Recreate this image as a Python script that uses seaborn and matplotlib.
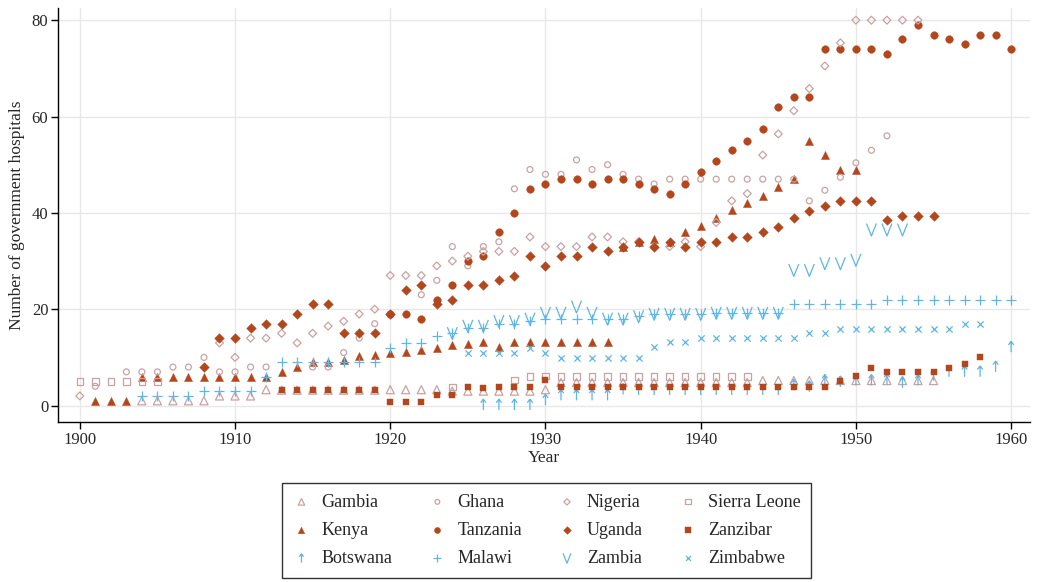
import numpy as np
import pandas as pd
import matplotlib
matplotlib.use("Agg")
import matplotlib.pyplot as plt
from matplotlib.path import Path
import seaborn as sns

sns.set_theme(style="white")
plt.rcParams['font.family'] = ['Liberation Serif', 'DejaVu Serif']

# ----------------------------------------------------------
# number of government hospitals by colony
# each series: first year + one value per year (None = no data)

gambia_start = 1904
gambia = [1, 1, 1, 1, 1, 2, 2, 2, 3.3,
          3.2, 3.2, 3.2, 3.2, 3.2, 3.2, 3.2,
          3.3, 3.3, 3.3, 3.3, 3, 3, 3, 3, 3, 3, 3.3,
          4.8, 4.8, 4.8, 4.8, 4.8, 4.8, 4.8, 4.8, 4.8, 4.8, 4.8, 4.8, 4.8,
          5.2, 5.2, 5.2, 5.2, 5.2, 5.2, 5.2, 5.2, 5.2, 5.2, 5.2, 5.2]

ghana_start = 1901
ghana = [4, None, 7, 7, 7, 8, 8, 10, 7, 7, 8, 8,
         None, None, 8, 8, 11, 14, 17,
         None, None, 23, 26, 33, 29, 33, 34, 45, 49,
         48, 48, 51, 49, 50, 48, 47, 46, 47, 47,
         47, 47, 47, 47, 47, 47, 47, 42.5, 44.7, 47.4,
         50.4, 53, 56]

nigeria_start = 1900
nigeria = [2, None, None, None, None, None, None, None, None,
           13, 10, 14, 14, 15, 13, 15, 16.5, 17.5, 19, 20,
           27, 27, 27, 29, 30, 31, 32, 32, 32, 35,
           33, 33, 33, 35, 35, 34, 34, 33, 33, 34,
           33, 38, 42.5, 44, 52, 56.4, 61.2, 65.8, 70.5, 75.3,
           80, 80, 80, 80, 80]

sierra_start = 1900
sierra = [5, 5, 5, 5, 5, 5,
          None, None, None, None, None, None, None, None, None,
          None, None, None, None, None, None, None, None, None,
          3.9, None, None, None, 5.3, 6,
          6.1, 6, 6, 6, 6, 6, 6, 6, 6, 6, 6, 6, 6, 6]

kenya_start = 1901
kenya = [1, 1, 1, 6, 6, 6, 6, 6, 6, 6, 6, 6,
         7, 8, 9, 9, 9.5, 10.2, 10.5,
         10.9, 11.2, 11.6, 11.9, 12.6, 12.8, 13.3, 12.2, 13.3, 13.3,
         13.3, 13.3, 13.3, 13.3, 13.3,
         33, 34, 34.5, 34, 36, 37.3, 39, 40.5, 42, 43.6, 45.3, 47, 55, 52, 49, 49]

tanzania_start = 1920
tanzania = [19, 19, 18, 22, 25, 30, 31, 36, 40, 45,
            46, 47, 47, 46, 47, 47, 46, 45, 44, 46,
            48.4, 50.8, 53, 55, 57.4, 62, 64, 64, 74, 74,
            74, 74, 73, 76, 79, 77, 76, 75, 77, 77, 74]

uganda_start = 1908
uganda = [8, 14, 14, 16, 17, 17, 19, 21, 21, 15, 15, 15,
          19, 24, 25, 21, 22, 25, 25, 26, 27, 31,
          29, 31, 31, 33, 32, 33, 34, 33, 34, 33,
          34, 34, 35, 35, 36, 37, 39, 40.4, 41.5, 42.5,
          42.5, 42.5, 38.5, 39.3, 39.3, 39.3]

zanzibar_start = 1913
zanzibar = [3.2, 3.2, 3.2, 3.2, 3.2, 3.2, 3.2,
            0.8, 0.8, 0.8, 2.1, 2.1, 3.9, 3.7, 3.9, 3.9, 3.9,
            5.3, 3.9, 3.9, 3.9, 3.9, 3.9, 3.9, 3.9, 3.9, 3.9, 3.9, 3.9, 3.9, 3.9, 3.9, 3.9,
            3.9, 3.9, 3.9, 5, 6.1, 7.9, 6.9, 6.9, 6.9, 6.9, 7.9, 8.7, 10]

botswana_start = 1926
botswana = [0.2, 0.2, 0.2, 0.2, 1.2, 2.2, 2.2, 2.2, 2.2,
            3.4, 3.3, 3.3, 3.3, 3.3, 3.3, 3.3, 3.3, 3.3, 3.3, 3.3,
            4.3, 4, 5.3, 5, 5.3, 5.3, 5.5, 4.8, 5.3, 6.3, 7.1, 7.1, 7.1, 8.1, 12.2]

malawi_start = 1904
malawi = [2, 2, 2, 2, 3, 3, 3, 3, 6,
          9, 9, 9, 9, 9, 9, 9,
          12, 13, 13, 14.5, 15, 16, 16, 17, 17, 17.5,
          18, 18, 18, 18, 18, 18, 18.5, 19, 19, 19,
          19, 19.2, 19.2, 19.2, 19.2, 19.2, 21, 21, 21, 21,
          21, 21, 22, 22, 22, 22, 22, 22, 22, 22, 22]

zambia_start = 1924
zambia = [15, 16.5, 16.5, 17.5, 17.5, 18,
          19.2, 19.2, 20.5, 19.2, 18, 18, 18.5, 19, 19, 19,
          19, 19.2, 19.2, 19.2, 19.2, 19.2, 28.1, 28.1, 29.5, 29.5,
          30.2, 36.5, 36.5, 36.5]

zimbabwe_start = 1925
zimbabwe = [11, 11, 11, 11, 12,
            11, 9.8, 9.8, 9.8, 9.8, 9.8, 9.8, 12.1, 13.1, 13.1,
            14, 14, 14, 14, 14, 14, 14, 15, 15, 15.9,
            15.9, 15.9, 15.9, 15.9, 15.9, 15.9, 15.9, 17, 17]

# ----------------------------------------------------------
pink = "#c9a3a3"
rust = "#b4461c"
blue = "#5db6e8"

arrow = Path([(0, -1), (0, 1), (-0.5, 0.35), (0, 1), (0.5, 0.35)],
             [Path.MOVETO, Path.LINETO, Path.MOVETO, Path.LINETO, Path.LINETO])
vee = Path([(-0.8, 1), (0, -1), (0.8, 1)],
           [Path.MOVETO, Path.LINETO, Path.LINETO])

# name, start, values, marker, colour, hollow, size
series = [
    ("Gambia", gambia_start, gambia, "^", pink, True, 34),
    ("Kenya", kenya_start, kenya, "^", rust, False, 34),
    ("Botswana", botswana_start, botswana, arrow, blue, True, 60),
    ("Ghana", ghana_start, ghana, "o", pink, True, 18),
    ("Tanzania", tanzania_start, tanzania, "o", rust, False, 30),
    ("Malawi", malawi_start, malawi, "+", blue, False, 45),
    ("Nigeria", nigeria_start, nigeria, "D", pink, True, 16),
    ("Uganda", uganda_start, uganda, "D", rust, False, 24),
    ("Zambia", zambia_start, zambia, vee, blue, True, 80),
    ("Sierra Leone", sierra_start, sierra, "s", pink, True, 22),
    ("Zanzibar", zanzibar_start, zanzibar, "s", rust, False, 24),
    ("Zimbabwe", zimbabwe_start, zimbabwe, "x", blue, False, 20),
]

fig = plt.figure(figsize=(10.37, 5.82), dpi=100)
ax = fig.add_axes([0.056, 0.275, 0.937, 0.711])

for name, start, vals, mk, col, hollow, size in series:
    df = pd.DataFrame({"Year": np.arange(start, start + len(vals)),
                       "n": pd.to_numeric(pd.Series(vals), errors="coerce")}).dropna()
    if hollow:
        sns.scatterplot(data=df, x="Year", y="n", marker=mk, s=size, ax=ax,
                        color=col, facecolor="none", edgecolor=col, linewidth=0.9,
                        label=name, zorder=3)
    else:
        sns.scatterplot(data=df, x="Year", y="n", marker=mk, s=size, ax=ax,
                        color=col, edgecolor=col, linewidth=0.9 if mk in ("+", "x") else 0.3,
                        label=name, zorder=3)

ax.set_xlim(1898.6, 1961.2)
ax.set_ylim(-3.4, 82.5)
ax.set_xticks(range(1900, 1961, 10))
ax.set_yticks(range(0, 81, 20))
ax.grid(True, color="#e8e8e8", linewidth=1.0)
ax.set_axisbelow(True)
for s in ["top", "right"]:
    ax.spines[s].set_visible(False)
for s in ["left", "bottom"]:
    ax.spines[s].set_color("black")
    ax.spines[s].set_linewidth(1.0)
ax.tick_params(axis="both", direction="out", length=5, width=1, color="black",
               labelsize=12, pad=2, bottom=True, left=True)
ax.set_xlabel("Year", fontsize=12.5, labelpad=2)
ax.set_ylabel("Number of government hospitals", fontsize=12.5, labelpad=5)

handles, labels = ax.get_legend_handles_labels()
if ax.get_legend():
    ax.get_legend().remove()
leg = fig.legend(handles, labels, ncol=4, loc="upper center",
                 bbox_to_anchor=(0.527, 0.186), frameon=True, fancybox=False,
                 edgecolor="black", fontsize=13, markerscale=0.8,
                 handletextpad=0.6, columnspacing=2.0, labelspacing=0.62,
                 handlelength=1.0, borderpad=0.6)
leg.get_frame().set_linewidth(1.0)

fig.savefig("out.png", dpi=100)
